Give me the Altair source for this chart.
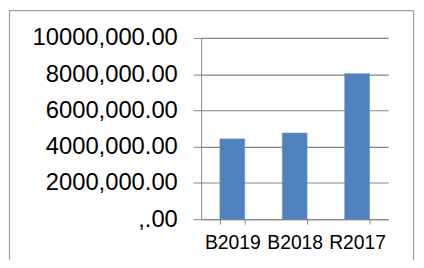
import altair as alt
import pandas as pd

categories = ["B2019", "B2018", "R2017"]
values = [4430000, 4750000, 8030000]
y_ticks = [0, 2000000, 4000000, 6000000, 8000000, 10000000]
y_labels = [",.00", "2000,000.00", "4000,000.00", "6000,000.00", "8000,000.00", "10000,000.00"]

df = pd.DataFrame({"cat": categories, "val": values})

expr = "''"
for t, l in zip(reversed(y_ticks), reversed(y_labels)):
    expr = f"datum.value == {t} ? '{l}' : ({expr})"

GRID = "#868686"
FONT = "Liberation Sans"

bars = alt.Chart(df).mark_bar(color="#4F81BD", stroke="#5d8fcc", strokeWidth=0.6).encode(
    x=alt.X("cat:N", sort=categories, title=None,
            scale=alt.Scale(paddingInner=0.603, paddingOuter=0.3015),
            axis=alt.Axis(labelAngle=0, labelFont=FONT, labelFontSize=19.5, labelColor="#000",
                          domainColor=GRID, tickColor=GRID, tickSize=5, tickBand="extent",
                          labelPadding=10, labelBaseline="top", grid=False)),
    y=alt.Y("val:Q", title=None,
            scale=alt.Scale(domain=[0, 10000000], nice=False),
            axis=alt.Axis(values=y_ticks, labelExpr=expr, labelFont=FONT, labelFontSize=24,
                          labelColor="#000", domainColor=GRID, tickColor=GRID, tickSize=8,
                          labelPadding=16, gridColor=GRID, gridWidth=1.2)),
)

border = alt.Chart(pd.DataFrame({"k": [0]})).mark_rect(
    fill=None, fillOpacity=0, stroke="#a0a0a0", strokeWidth=1.2
).encode(
    x=alt.value(-193.5), x2=alt.value(214.5), y=alt.value(-27.5), y2=alt.value(300)
)

chart = alt.layer(border, bars).properties(
    width=189, height=183,
    autosize=alt.AutoSizeParams(type="none"),
    padding={"left": 195, "top": 29, "right": 28, "bottom": 40},
).configure_view(stroke=None)

chart.save("out.html", embed_options={"renderer": "svg", "actions": False})
